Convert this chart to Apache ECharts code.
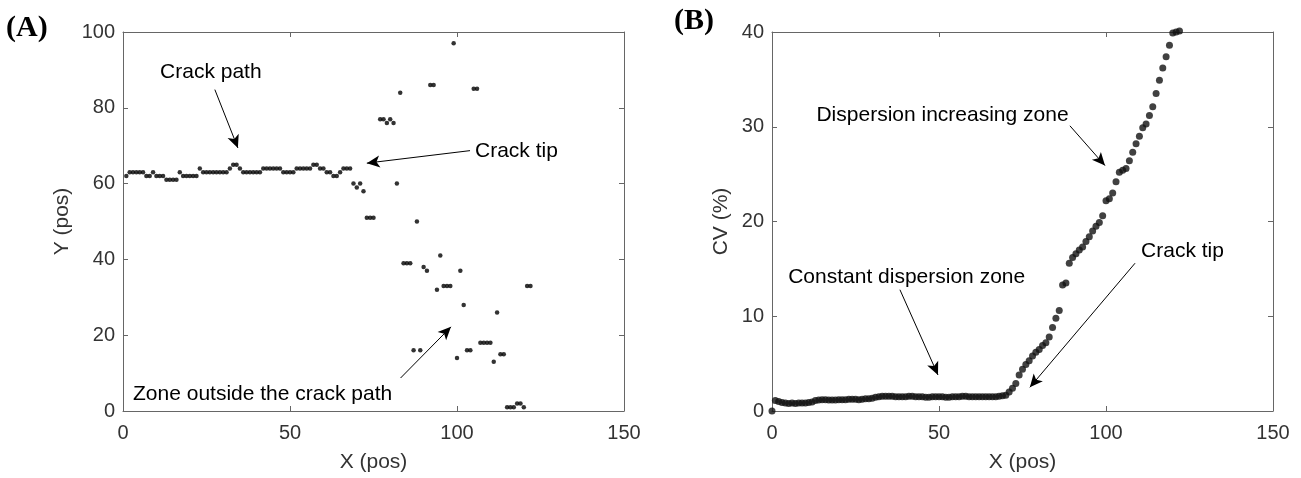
<!DOCTYPE html>
<html><head><meta charset="utf-8">
<script src="https://cdn.jsdelivr.net/npm/echarts@6/dist/echarts.min.js"></script>
<style>html,body{margin:0;padding:0;background:#fff}#c{width:1301px;height:478px}</style>
</head><body><div id="c"></div>
<script>
// ---------- DATA ----------
const xTicks = [0, 50, 100, 150];
const leftYTicks = [0, 20, 40, 60, 80, 100];
const rightYTicks = [0, 10, 20, 30, 40];

// (A) crack position: X (pos), Y (pos)
const leftX = [1,2,3,4,5,6,7,8,9,10,11,12,13,14,15,16,17,18,19,20,21,22,23,24,25,26,27,28,29,30,
  31,32,33,34,35,36,37,38,39,40,41,42,43,44,45,46,47,48,49,50,51,52,53,54,55,56,57,58,59,60,
  61,62,63,64,65,66,67,68,
  69,70,71,72,73,74,75,77,78,79,80,81,82,83,84,85,86,87,88,89,90,91,92,93,94,95,96,97,98,99,
  100,101,102,103,104,105,106,107,108,109,110,111,112,113,114,115,116,117,118,119,120,121,122];
const leftY = [62,63,63,63,63,63,62,62,63,62,62,62,61,61,61,61,63,62,62,62,62,62,64,63,63,63,63,63,63,63,
  63,64,65,65,64,63,63,63,63,63,63,64,64,64,64,64,64,63,63,63,63,64,64,64,64,64,65,65,64,64,
  63,63,62,62,63,64,64,64,
  60,59,60,58,51,51,51,77,77,76,77,76,60,84,39,39,39,16,50,16,38,37,86,86,32,41,33,33,33,97,
  14,37,28,16,16,85,85,18,18,18,18,13,26,15,15,1,1,1,2,2,1,33,33];

// (B) coefficient of variation: X (pos), CV (%)
const rightX = [0,1,2,3,4,5,6,7,8,9,10,11,12,13,14,15,16,17,18,19,20,21,22,23,24,25,26,27,28,29,
  30,31,32,33,34,35,36,37,38,39,40,41,42,43,44,45,46,47,48,49,50,51,52,53,54,55,56,57,58,59,
  60,61,62,63,64,65,66,67,68,69,70,71,72,73,74,75,76,77,78,79,80,81,82,83,84,85,86,87,88,89,
  90,91,92,93,94,95,96,97,98,99,100,101,102,103,104,105,106,107,108,109,110,111,112,113,114,115,116,117,118,119,
  120,121,122];
const rightCV = [0,1.1,1.0,0.9,0.85,0.8,0.85,0.8,0.85,0.85,
  0.85,0.9,0.95,1.1,1.15,1.2,1.2,1.15,1.15,1.15,
  1.2,1.2,1.2,1.25,1.25,1.25,1.2,1.25,1.3,1.3,
  1.35,1.45,1.5,1.55,1.55,1.55,1.55,1.5,1.5,1.5,
  1.5,1.55,1.55,1.5,1.5,1.5,1.45,1.45,1.5,1.5,
  1.5,1.5,1.45,1.45,1.5,1.5,1.5,1.55,1.55,1.5,
  1.5,1.5,1.5,1.5,1.5,1.5,1.5,1.5,1.55,1.6,
  1.65,2.0,2.4,2.9,3.8,4.4,4.9,5.3,5.8,6.2,
  6.5,6.9,7.2,7.8,8.8,9.8,10.6,13.3,13.5,15.6,
  16.2,16.6,17.0,17.3,17.9,18.4,19.0,19.5,19.9,20.6,
  22.2,22.4,23.0,24.2,25.2,25.4,25.6,26.4,27.3,28.2,
  29.0,29.9,30.3,31.2,32.1,33.5,34.9,36.2,37.4,38.6,
  39.9,40.0,40.1];

// ---------- CHART ----------
const FONT = 'Liberation Sans, Arial, sans-serif';
const AX = '#666666', TXT = '#333333';

function xAx(g) {
  return [{
    type: 'value', gridIndex: g, min: 0, max: 150, interval: 50, position: 'bottom',
    axisLine: { show: true, onZero: false, lineStyle: { color: AX, width: 1 } },
    axisTick: { show: true, inside: true, length: 5, lineStyle: { color: AX } },
    axisLabel: { show: true, color: TXT, fontSize: 20, fontFamily: FONT, margin: 12,
      formatter: v => xTicks.includes(v) ? String(v) : '' },
    splitLine: { show: false },
    name: 'X (pos)', nameLocation: 'middle', nameGap: 41,
    nameTextStyle: { fontSize: 21, color: TXT, fontFamily: FONT }
  }, {
    type: 'value', gridIndex: g, min: 0, max: 150, interval: 50, position: 'top',
    axisLine: { show: true, onZero: false, lineStyle: { color: AX, width: 1 } },
    axisTick: { show: true, inside: true, length: 5, lineStyle: { color: AX } },
    axisLabel: { show: false }, splitLine: { show: false }
  }];
}
function yAx(g, max, interval, ticks, name, gap) {
  return [{
    type: 'value', gridIndex: g, min: 0, max: max, interval: interval, position: 'left',
    axisLine: { show: true, onZero: false, lineStyle: { color: AX, width: 1 } },
    axisTick: { show: true, inside: true, length: 5, lineStyle: { color: AX } },
    axisLabel: { show: true, color: TXT, fontSize: 20, fontFamily: FONT, margin: 8,
      formatter: v => ticks.includes(v) ? String(v) : '' },
    splitLine: { show: false },
    name: name, nameLocation: 'middle', nameGap: gap, nameRotate: 90,
    nameTextStyle: { fontSize: 21, color: TXT, fontFamily: FONT }
  }, {
    type: 'value', gridIndex: g, min: 0, max: max, interval: interval, position: 'right',
    axisLine: { show: true, onZero: false, lineStyle: { color: AX, width: 1 } },
    axisTick: { show: true, inside: true, length: 5, lineStyle: { color: AX } },
    axisLabel: { show: false }, splitLine: { show: false }
  }];
}

const arrowStyle = { color: '#000', width: 1, type: 'solid' };
function arrows(list) {
  return {
    silent: true, symbol: ['none', 'arrow'], symbolSize: [9, 13],
    lineStyle: arrowStyle, label: { show: false }, animation: false,
    data: list.map(a => [{ coord: a[0] }, { coord: a[1] }])
  };
}
function texts(list) {
  return {
    silent: true, symbol: 'circle', symbolSize: 0, animation: false,
    data: list.map(t => ({ name: t.text, coord: t.at,
      label: { show: true, formatter: t.text, position: t.pos, distance: 0,
        color: '#000', fontSize: 21, fontFamily: FONT } }))
  };
}

const chart = echarts.init(document.getElementById('c'), null, { renderer: 'canvas' });
chart.setOption({
  animation: false,
  backgroundColor: '#fff',
  grid: [
    { left: 123, top: 32, width: 501, height: 382 },
    { left: 772, top: 32, width: 501, height: 382 }
  ],
  xAxis: [...xAx(0), ...xAx(1)],
  yAxis: [...yAx(0, 100, 20, leftYTicks, 'Y (pos)', 50), ...yAx(1, 40, 10, rightYTicks, 'CV (%)', 40)],
  graphic: [
    { type: 'text', left: 6, top: 13, style: { text: '(A)', font: 'bold 30px "Liberation Serif", "Times New Roman", serif', fill: '#000' } },
    { type: 'text', left: 674, top: 6, style: { text: '(B)', font: 'bold 30px "Liberation Serif", "Times New Roman", serif', fill: '#000' } }
  ],
  series: [
    {
      type: 'scatter', xAxisIndex: 0, yAxisIndex: 0, symbolSize: 4.5, clip: false,
      itemStyle: { color: '#000' },
      data: leftX.map((x, i) => [x, leftY[i]]),
      markLine: arrows([
        [[27.5, 84.8], [34.4, 69.4]],
        [[103.9, 68.7], [73, 65.4]],
        [[83.1, 8.7], [98.2, 22.2]]
      ]),
      markPoint: texts([
        { text: 'Crack path', at: [26.3, 89.5], pos: 'inside' },
        { text: 'Crack tip', at: [105.4, 68.6], pos: 'right' },
        { text: 'Zone outside the crack path', at: [3, 4.5], pos: 'right' }
      ])
    },
    {
      type: 'scatter', xAxisIndex: 2, yAxisIndex: 2, symbolSize: 7, clip: false,
      itemStyle: { color: '#111' },
      data: rightX.map((x, i) => [x, rightCV[i]]),
      markLine: arrows([
        [[89.2, 30.1], [99.7, 25.9]],
        [[38.3, 12.8], [49.7, 3.8]],
        [[108.7, 15.6], [77.2, 2.5]]
      ]),
      markPoint: texts([
        { text: 'Dispersion increasing zone', at: [88.8, 31.2], pos: 'left' },
        { text: 'Constant dispersion zone', at: [75.8, 14.1], pos: 'left' },
        { text: 'Crack tip', at: [110.5, 16.9], pos: 'right' }
      ])
    }
  ]
});
</script>
</body></html>
